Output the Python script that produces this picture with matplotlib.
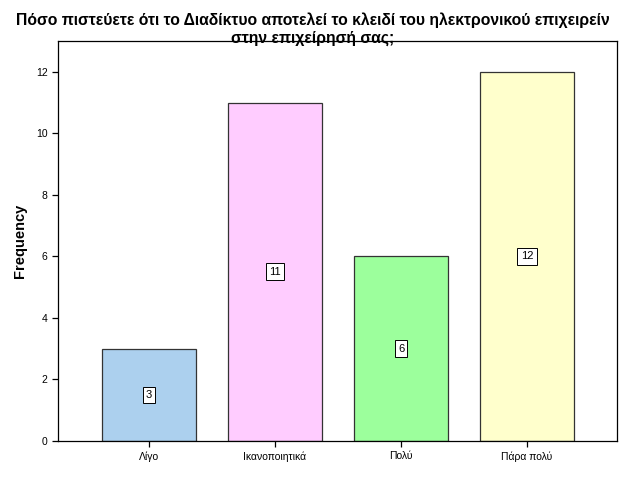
import numpy as np
import matplotlib.pyplot as plt

categories = ['Λίγο', 'Ικανοποιητικά', 'Πολύ', 'Πάρα πολύ']
counts = [3, 11, 6, 12]
colors = ['#acd0ee', '#ffccff', '#9cff9c', '#ffffcc']

plt.rcParams['font.family'] = ['Liberation Sans', 'DejaVu Sans']

fig = plt.figure(figsize=(6.26, 5.01), dpi=100)
ax = fig.add_axes([58 / 626, 1 - 441 / 501, 559 / 626, 400 / 501])

x = np.arange(len(categories))
ax.bar(x, counts, width=0.746, color=colors, edgecolor='#333333', linewidth=0.9)

# 막대 가운데 값 표시
for xi, c in zip(x, counts):
    ax.text(xi, c / 2, str(c), ha='center', va='center', fontsize=8,
            bbox=dict(boxstyle='square,pad=0.3', fc='white', ec='black', lw=0.7))

ax.set_xlim(-0.722, 3.714)
ax.set_ylim(0, 13)
ax.set_yticks(range(0, 13, 2))
ax.set_xticks(x)
ax.set_xticklabels(categories)
ax.tick_params(labelsize=7.5, length=4, width=0.9, direction='out')
ax.set_ylabel('Frequency', fontsize=10.5, fontweight='bold', labelpad=6)
for s in ax.spines.values():
    s.set_linewidth(0.9)

fig.text(0.5, 1 - 29 / 501,
         'Πόσο πιστεύετε ότι το Διαδίκτυο αποτελεί το κλειδί του ηλεκτρονικού επιχειρείν\nστην επιχείρησή σας;',
         ha='center', va='center', fontsize=11.3, fontweight='bold', linespacing=1.25)

fig.savefig('out.png', dpi=100)
